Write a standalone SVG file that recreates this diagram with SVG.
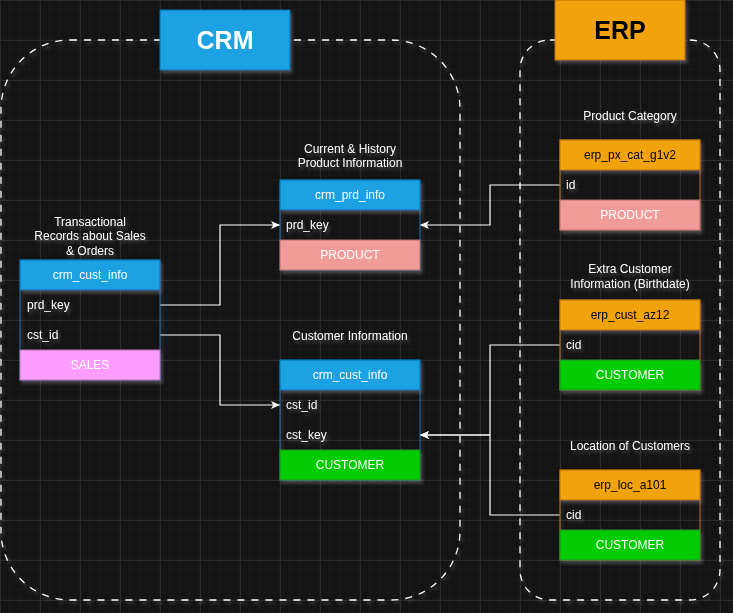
<svg xmlns="http://www.w3.org/2000/svg" width="733" height="613" viewBox="0 0 733 613">
<defs>
<pattern id="minor" width="10" height="10" patternUnits="userSpaceOnUse">
<path d="M10,0 V10 M0,10 H10" fill="none" stroke="#1d1d1d" stroke-width="1"/>
</pattern>
<pattern id="major" width="40" height="40" patternUnits="userSpaceOnUse">
<path d="M0.5,0 V40 M0,0.5 H40" fill="none" stroke="#2c2c2c" stroke-width="1"/>
</pattern>
<filter id="glow" x="-20%" y="-20%" width="140%" height="140%">
<feGaussianBlur in="SourceAlpha" stdDeviation="1.8" result="b"/>
<feOffset in="b" dx="2" dy="3" result="o"/>
<feFlood flood-color="#b0b0c8" flood-opacity="0.3"/>
<feComposite in2="o" operator="in" result="s"/>
<feMerge><feMergeNode in="s"/><feMergeNode in="SourceGraphic"/></feMerge>
</filter>
<marker id="arr" viewBox="0 0 9 8" refX="9" refY="4" markerWidth="9" markerHeight="8" markerUnits="userSpaceOnUse" orient="auto">
<path d="M0,0 L9,4 L0,8 L2.2,4 Z" fill="#ffffff"/>
</marker>
<style>
text{font-family:"Liberation Sans",Arial,sans-serif;font-size:12px;fill:#ffffff}
.c{text-anchor:middle}
.title{font-weight:bold;font-size:25px}
.cont{fill:none;stroke:#ffffff;stroke-width:1.3;stroke-dasharray:7 7}
.hb{fill:#1ba1e2;stroke:#006eaf}
.ho{fill:#f0a30a;stroke:#bd7000}
.bb{fill:none;stroke:#006eaf}
.bo{fill:none;stroke:#bd7000}
.sales{fill:#ff9cff;stroke:#b773b3}
.prod{fill:#f19c99;stroke:#b3706d}
.cust{fill:#00cc00;stroke:#2d8a2d}
.edge{fill:none;stroke:#ffffff;stroke-width:1.2}
.dark{fill:#111111}
</style>
</defs>
<rect width="733" height="613" fill="#141414"/>
<rect width="733" height="613" fill="url(#minor)"/>
<rect width="733" height="613" fill="url(#major)"/>

<g id="crm-container" filter="url(#glow)">
<rect class="cont" x="1" y="40" width="459" height="560" rx="69" ry="69"/>
</g>
<g id="erp-container" filter="url(#glow)">
<rect class="cont" x="520" y="40" width="200" height="560" rx="30" ry="30"/>
</g>

<g id="crm-title" filter="url(#glow)">
<rect class="hb" x="160" y="10" width="130" height="60"/>
<text class="c title" x="225" y="49">CRM</text>
</g>
<g id="erp-title" filter="url(#glow)">
<rect class="ho" x="555" y="0" width="130" height="60"/>
<text class="c title" x="620" y="39" style="fill:#000000">ERP</text>
</g>

<g id="connectors">
<path class="edge" d="M160,305 H220 V225 H280" marker-end="url(#arr)"/>
<path class="edge" d="M160,335 H220 V405 H280" marker-end="url(#arr)"/>
<path class="edge" d="M560,185 H490 V225 H420" marker-end="url(#arr)"/>
<path class="edge" d="M560,345 H490 V435 H420" marker-end="url(#arr)"/>
<path class="edge" d="M560,515 H490 V435 H420" marker-end="url(#arr)"/>
</g>

<g id="sales-table" filter="url(#glow)">
<text class="c" x="90" y="226">Transactional</text>
<text class="c" x="90" y="240">Records about Sales</text>
<text class="c" x="90" y="255">&amp; Orders</text>
<rect class="bb" x="20" y="260" width="140" height="120"/>
<rect class="hb" x="20" y="260" width="140" height="30"/>
<text class="c" x="90" y="279">crm_cust_info</text>
<text x="27" y="309">prd_key</text>
<text x="27" y="339">cst_id</text>
<rect class="sales" x="20" y="350" width="140" height="30"/>
<text class="c" x="90" y="369">SALES</text>
</g>

<g id="product-table" filter="url(#glow)">
<text class="c" x="350" y="153">Current &amp; History</text>
<text class="c" x="350" y="167">Product Information</text>
<rect class="bb" x="280" y="180" width="140" height="90"/>
<rect class="hb" x="280" y="180" width="140" height="30"/>
<text class="c" x="350" y="199">crm_prd_info</text>
<text x="286" y="229">prd_key</text>
<rect class="prod" x="280" y="240" width="140" height="30"/>
<text class="c" x="350" y="259">PRODUCT</text>
</g>

<g id="customer-table" filter="url(#glow)">
<text class="c" x="350" y="340">Customer Information</text>
<rect class="bb" x="280" y="360" width="140" height="120"/>
<rect class="hb" x="280" y="360" width="140" height="30"/>
<text class="c" x="350" y="379">crm_cust_info</text>
<text x="286" y="409">cst_id</text>
<text x="286" y="439">cst_key</text>
<rect class="cust" x="280" y="450" width="140" height="30"/>
<text class="c" x="350" y="469">CUSTOMER</text>
</g>

<g id="erp-px-cat" filter="url(#glow)">
<text class="c" x="630" y="120">Product Category</text>
<rect class="bo" x="560" y="140" width="140" height="90"/>
<rect class="ho" x="560" y="140" width="140" height="30"/>
<text class="c" x="630" y="159" style="fill:#000000">erp_px_cat_g1v2</text>
<text x="566" y="189">id</text>
<rect class="prod" x="560" y="200" width="140" height="30"/>
<text class="c" x="630" y="219">PRODUCT</text>
</g>

<g id="erp-cust" filter="url(#glow)">
<text class="c" x="630" y="273">Extra Customer</text>
<text class="c" x="630" y="288">Information (Birthdate)</text>
<rect class="bo" x="560" y="300" width="140" height="90"/>
<rect class="ho" x="560" y="300" width="140" height="30"/>
<text class="c" x="630" y="319" style="fill:#000000">erp_cust_az12</text>
<text x="566" y="349">cid</text>
<rect class="cust" x="560" y="360" width="140" height="30"/>
<text class="c" x="630" y="379">CUSTOMER</text>
</g>

<g id="erp-loc" filter="url(#glow)">
<text class="c" x="630" y="450">Location of Customers</text>
<rect class="bo" x="560" y="470" width="140" height="90"/>
<rect class="ho" x="560" y="470" width="140" height="30"/>
<text class="c" x="630" y="489" style="fill:#000000">erp_loc_a101</text>
<text x="566" y="519">cid</text>
<rect class="cust" x="560" y="530" width="140" height="30"/>
<text class="c" x="630" y="549">CUSTOMER</text>
</g>
</svg>
